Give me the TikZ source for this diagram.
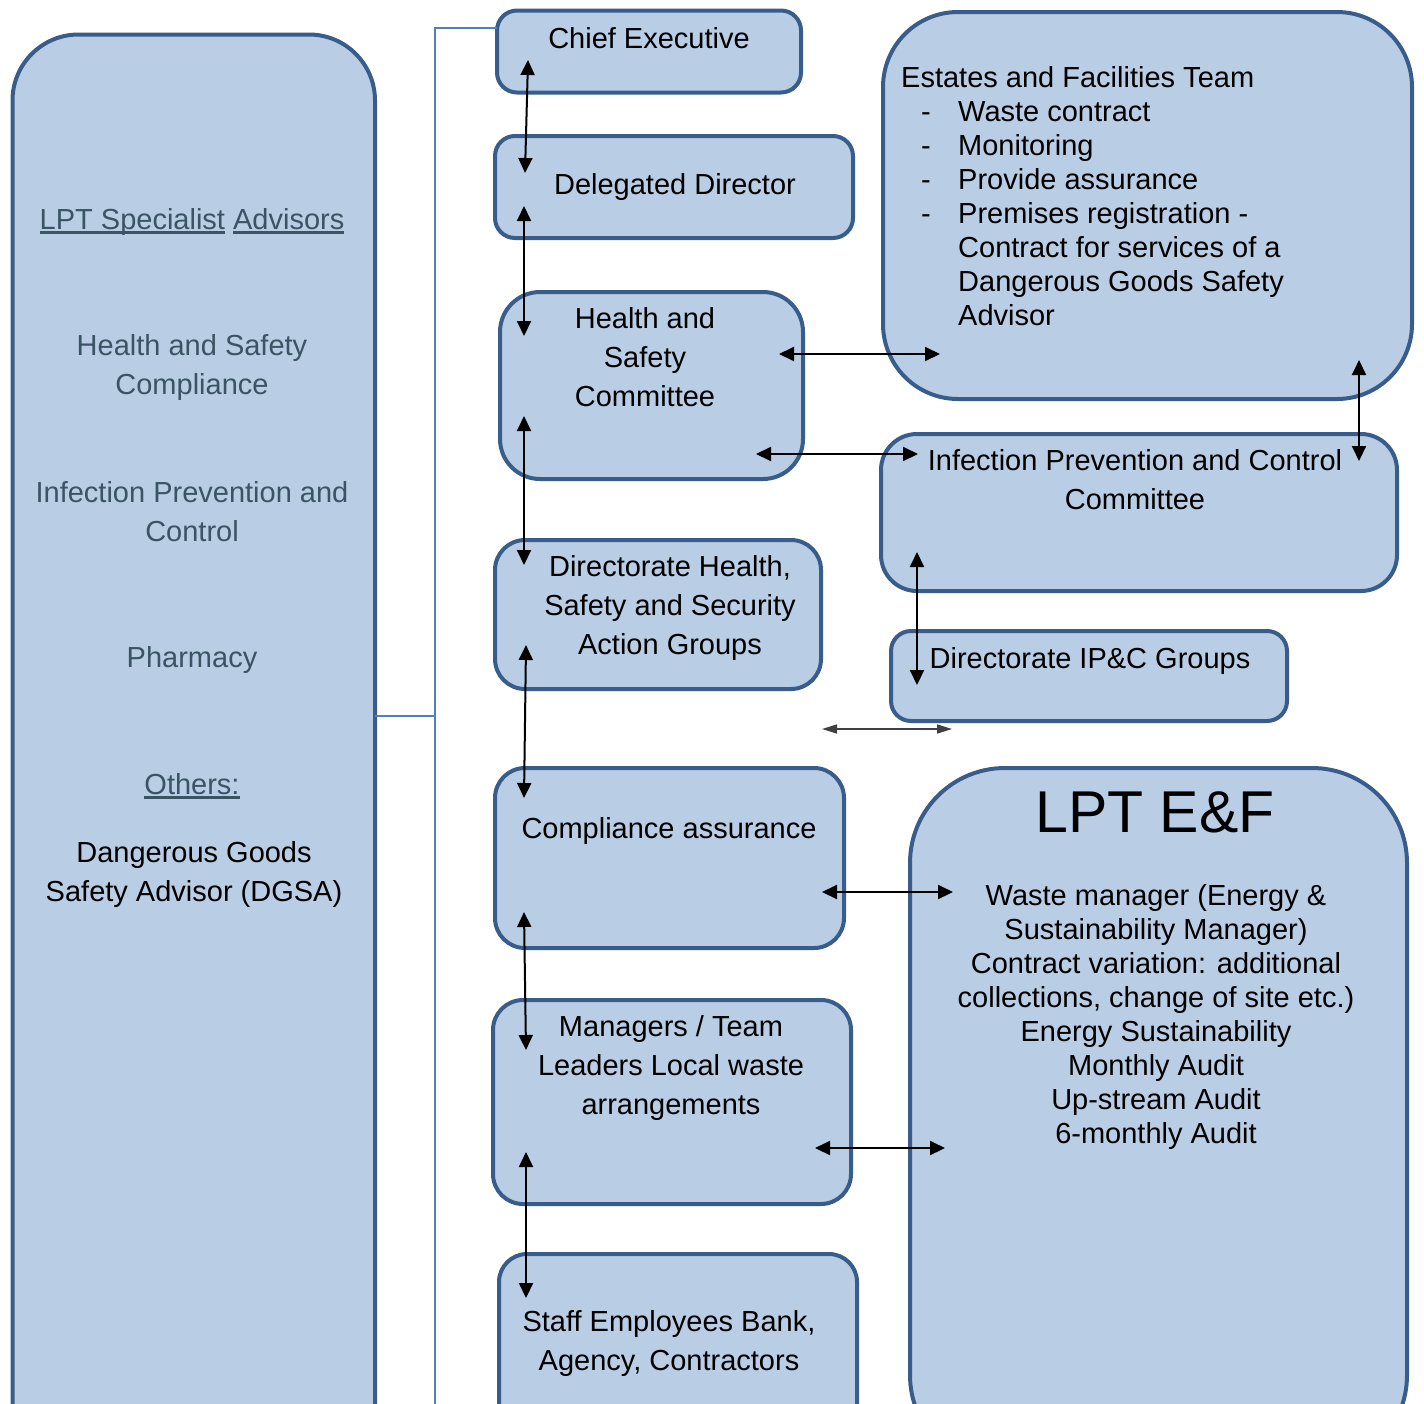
\documentclass[tikz,border=0pt]{standalone}
\usepackage{fontspec}
\setmainfont{Liberation Sans}
\usetikzlibrary{arrows.meta,fit}
\definecolor{boxfill}{RGB}{185,205,229}
\definecolor{boxline}{RGB}{56,93,138}
\definecolor{linkblue}{RGB}{79,129,189}
\definecolor{lefttext}{RGB}{59,84,100}
\newcommand\myul[1]{\leavevmode\setbox0\hbox{#1}\rlap{\rule[-4.5pt]{\wd0}{2.5pt}}\box0\relax}
\begin{document}
\begin{tikzpicture}[x=1pt,y=-1pt,
  box/.style={draw=boxline, fill=boxfill, line width=4pt, inner sep=0pt, outer sep=0pt},
  txt/.style={font=\fontsize{29}{39}\selectfont, inner sep=0pt, align=center, anchor=base, text=black},
  ltxt/.style={txt, font=\fontsize{29}{38.5}\selectfont, text=lefttext},
  ntxt/.style={font=\fontsize{29}{34}\selectfont, inner sep=0pt, anchor=base, text=black},
  link/.style={draw=linkblue, line width=2pt},
  dbl/.style={{Triangle[length=15pt,width=14pt]}-{Triangle[length=15pt,width=14pt]}, line width=2pt, black},
  dbls/.style={{Triangle[length=15pt,width=9pt]}-{Triangle[length=15pt,width=9pt]}, line width=1.6pt, black!75}
]
\useasboundingbox (0,0) rectangle (1424,1403);
\clip (0,0) rectangle (1424,1403);

% boxes
\node[box, rounded corners=66pt, fit={(12.5,34.5)(375,1470)}] (lbox) {};
\node[box, rounded corners=20pt, fit={(497,10.5)(801,92.5)}] (ce) {};
\node[box, rounded corners=20pt, fit={(495,136)(853,238)}] (dd) {};
\node[box, rounded corners=40pt, fit={(500,292)(803,479)}] (hsc) {};
\node[box, rounded corners=30pt, fit={(495,540)(821,689)}] (dhs) {};
\node[box, rounded corners=30pt, fit={(495,768)(844,948)}] (ca) {};
\node[box, rounded corners=30pt, fit={(493,1000)(851,1204)}] (mgr) {};
\node[box, rounded corners=28pt, fit={(499,1254)(857,1470)}] (staff) {};
\node[box, rounded corners=75pt, fit={(883,12)(1412,399)}] (est) {};
\node[box, rounded corners=36pt, fit={(881,434)(1397,591)}] (ipc) {};
\node[box, rounded corners=20pt, fit={(891,631)(1287,721)}] (dipc) {};
\node[box, rounded corners=95pt, fit={(910,768)(1407,1470)}] (ef) {};

% thin blue links
\coordinate (j0) at (435,28);
\coordinate (j1) at (435,716);
\coordinate (j2) at (435,1410);
\draw[link] (j0 -| ce.west) -- (j0) -- (j2);
\draw[link] (j1 -| lbox.east) -- (j1);

% left texts (anchor = baseline of last line)
\node[ltxt] (lsa) at (192,229) {\myul{LPT Specialist} \myul{Advisors}};
\node[ltxt] (lhs) at (192,394) {Health and Safety\\Compliance};
\node[ltxt] (lipc) at (192,541) {Infection Prevention and\\Control};
\node[ltxt] (lph) at (192,667) {Pharmacy};
\node[ltxt] (loth) at (192,794) {\myul{Others:}};
\node[txt] (ldg) at (194,901) {Dangerous Goods\\Safety Advisor (DGSA)};

% middle texts
\node[txt] (tce) at (649,48) {Chief Executive};
\node[txt] (tdd) at (675,194) {Delegated Director};
\node[txt] (thsc) at (645,406) {Health and\\Safety\\Committee};
\node[txt] (tdhs) at (670,654) {Directorate Health,\\Safety and Security\\Action Groups};
\node[txt] (tca) at (669,838) {Compliance assurance};
\node[txt] (tmgr) at (671,1114) {Managers / Team\\Leaders Local waste\\arrangements};
\node[txt] (tstaff) at (669,1370) {Staff Employees Bank,\\Agency, Contractors};

% right texts
\node[ntxt, anchor=base west] (test) at (901,87) {Estates and Facilities Team};
\node[ntxt, anchor=base west, align=left] (tdash) at (921,223) {-\\-\\-\\-};
\node[ntxt, anchor=base west, align=left] (titems) at (958,325) {Waste contract\\Monitoring\\Provide assurance\\Premises registration -\\Contract for services of a\\Dangerous Goods Safety\\Advisor};
\node[txt] (tipc) at (1135,509) {Infection Prevention and Control\\Committee};
\node[txt] (tdipc) at (1090,668) {Directorate IP\&C Groups};
\node[ntxt, font=\fontsize{59}{70}\selectfont] (tef) at (1155,832) {LPT E\&F};
\node[ntxt, align=center] (tefl) at (1156,1143) {Waste manager (Energy \&\\Sustainability Manager)\\Contract variation: additional\\collections, change of site etc.)\\Energy Sustainability\\Monthly Audit\\Up-stream Audit\\6-monthly Audit};

% arrow end points
\coordinate (a1t) at (528,60);   \coordinate (a1b) at (525,173);
\coordinate (a2t) at (524,206);  \coordinate (a2b) at (524,336);
\coordinate (a3t) at (524,416);  \coordinate (a3b) at (524,565);
\coordinate (a4t) at (526,645);  \coordinate (a4b) at (524,798);
\coordinate (a5t) at (524,912);  \coordinate (a5b) at (526,1050);
\coordinate (a6t) at (526,1152); \coordinate (a6b) at (526,1298);
\coordinate (h1l) at (779,354);  \coordinate (h1r) at (940,354);
\coordinate (h2l) at (756,454);  \coordinate (h2r) at (918,454);
\coordinate (h3l) at (822,729);  \coordinate (h3r) at (952,729);
\coordinate (h4l) at (822,892);  \coordinate (h4r) at (953,892);
\coordinate (h5l) at (815,1148); \coordinate (h5r) at (945,1148);
\coordinate (v1t) at (1359,360); \coordinate (v1b) at (1359,461);
\coordinate (v2t) at (917,552);  \coordinate (v2b) at (917,685);

\draw[dbl] (a1t) -- (a1b);
\draw[dbl] (a2t) -- (a2b);
\draw[dbl] (a3t) -- (a3b);
\draw[dbl] (a4t) -- (a4b);
\draw[dbl] (a5t) -- (a5b);
\draw[dbl] (a6t) -- (a6b);
\draw[dbl] (h1l) -- (h1r);
\draw[dbl] (h2l) -- (h2r);
\draw[dbls] (h3l) -- (h3r);
\draw[dbl] (h4l) -- (h4r);
\draw[dbl] (h5l) -- (h5r);
\draw[dbl] (v1t) -- (v1b);
\draw[dbl] (v2t) -- (v2b);
\end{tikzpicture}
\end{document}
